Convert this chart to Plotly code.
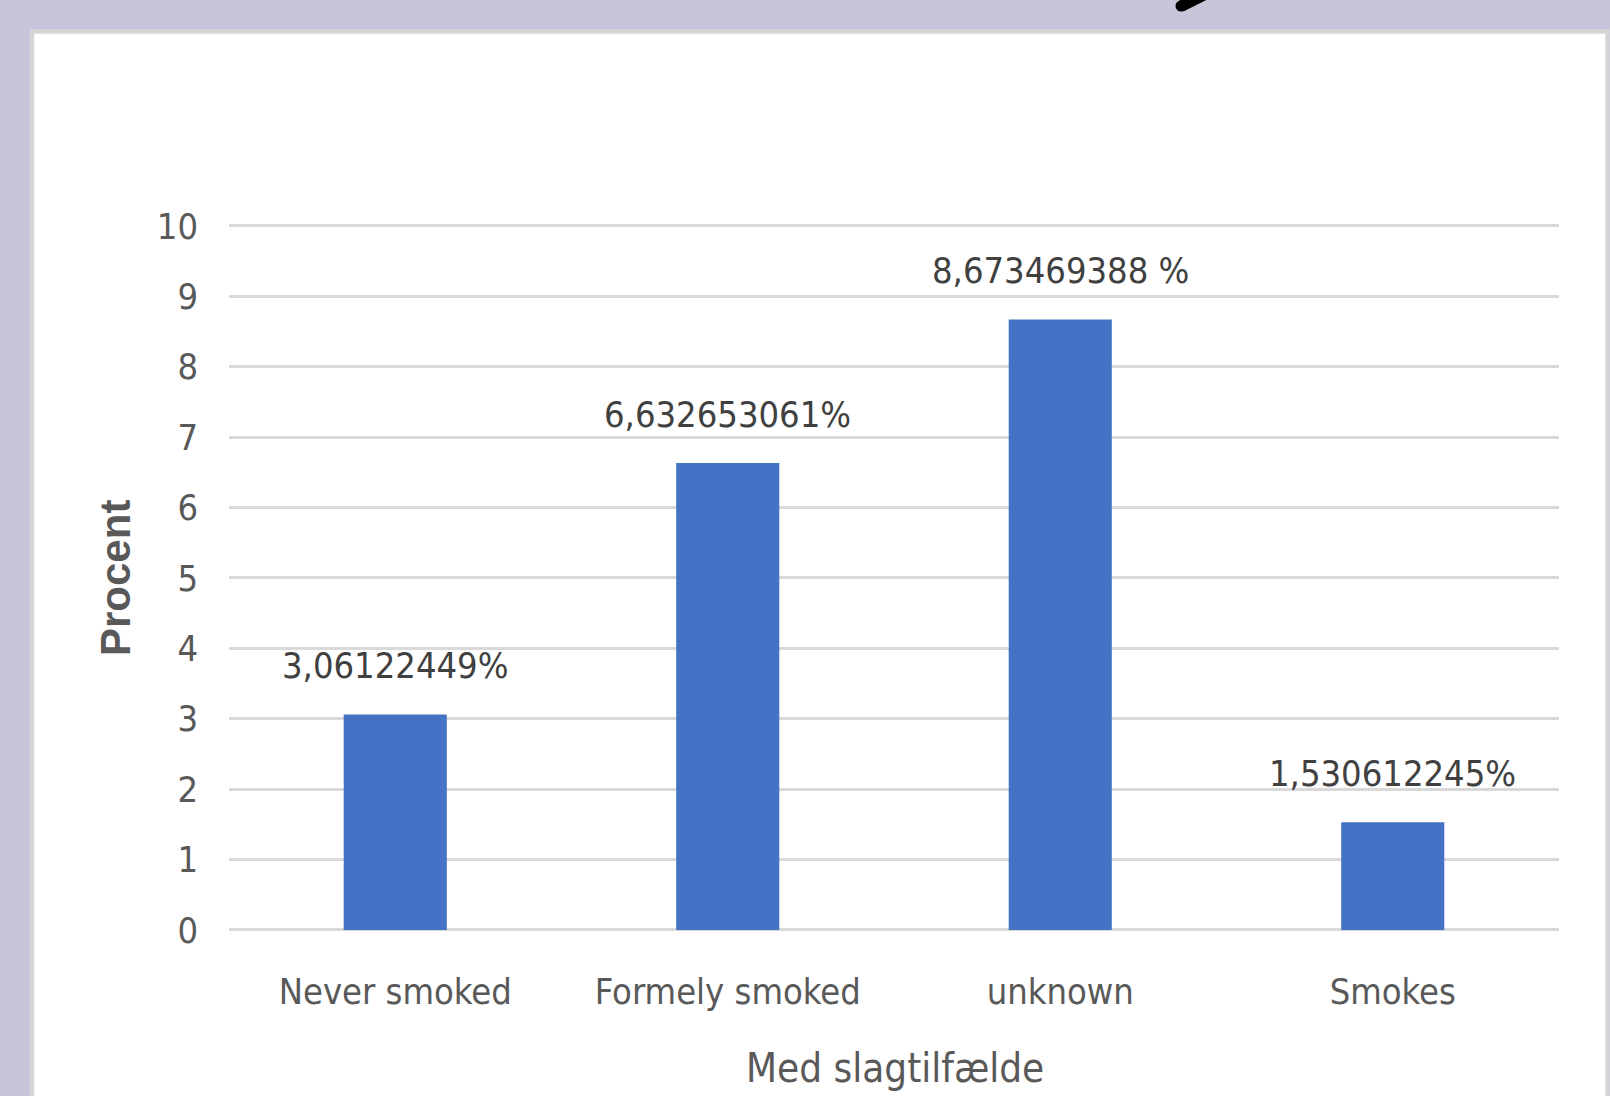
import plotly.graph_objects as go

# Share of stroke cases by smoking status
categories = ["Never smoked", "Formely smoked", "unknown", "Smokes"]
values = [3.06122449, 6.632653061, 8.673469388, 1.530612245]
value_labels = ["3,06122449%", "6,632653061%", "8,673469388 %", "1,530612245%"]
y_ticks = list(range(0, 11))

W, H = 1610, 1096
FONT = "DejaVu Sans Condensed, Liberation Sans Narrow, sans-serif"
GRID = "#d9d9d9"
TICK_COLOR = "#595959"
LABEL_COLOR = "#404040"
BAR_COLOR = "#4472C4"

# plot area in pixels (value 10 sits at PX_T, value 0 at PX_B)
PX_L, PX_R, PX_T, PX_B = 229, 1559, 226, 930
Y_MAX = 10.03  # a touch above 10 so the top gridline is kept
unit = (PX_B - PX_T) / 10.0
top_px = PX_T - (Y_MAX - 10) * unit


def px(x):
    return x / W


def py(y):
    return 1 - y / H


fig = go.Figure()
fig.add_trace(go.Bar(
    x=categories,
    y=values,
    marker=dict(color=BAR_COLOR, line=dict(width=0)),
    hoverinfo="skip",
))

annotations = []
for cat, val, lab in zip(categories, values, value_labels):
    annotations.append(dict(
        x=cat, y=val, xref="x", yref="y", text=lab, showarrow=False,
        yanchor="middle", yshift=49,
        font=dict(family=FONT, size=36, color=LABEL_COLOR),
    ))

# axis titles
annotations.append(dict(
    x=px(115), y=py(578), xref="paper", yref="paper", text="Procent",
    showarrow=False, textangle=-90, xanchor="center", yanchor="middle",
    font=dict(family="Liberation Sans, Arial, sans-serif", size=42,
              color=TICK_COLOR, weight="bold"),
))
annotations.append(dict(
    x=px(895), y=py(1068), xref="paper", yref="paper", text="Med slagtilfælde",
    showarrow=False, xanchor="center", yanchor="middle",
    font=dict(family=FONT, size=40, color=TICK_COLOR),
))

# white chart panel with a grey rim, and a pen stroke at the top edge
cx, cy, r = 1181, 6, 5.5
stroke = [(1178.6, 1.0), (1209.6, -14), (1214.4, -4), (1183.4, 11.5)]
stroke_path = "M " + " L ".join(f"{px(x):.5f},{py(y):.5f}" for x, y in stroke) + " Z"
shapes = [
    dict(type="rect", xref="paper", yref="paper", layer="below",
         x0=px(32), x1=px(1607.5), y0=py(1110), y1=py(31.5),
         fillcolor="white", line=dict(color="#d6d6d6", width=4.5)),
    dict(type="path", xref="paper", yref="paper", path=stroke_path,
         fillcolor="black", line=dict(width=0)),
    dict(type="circle", xref="paper", yref="paper",
         x0=px(cx - r), x1=px(cx + r), y0=py(cy + r), y1=py(cy - r),
         fillcolor="black", line=dict(width=0)),
]

fig.update_layout(
    width=W, height=H,
    autosize=False,
    margin=dict(l=0, r=0, t=0, b=0, autoexpand=False),
    paper_bgcolor="#C6C5DA",
    plot_bgcolor="white",
    showlegend=False,
    bargap=0.69,
    annotations=annotations,
    shapes=shapes,
    xaxis=dict(
        domain=[px(PX_L), px(PX_R)],
        automargin=False,
        showgrid=False, showline=False, ticks="",
        ticklabelstandoff=37,
        tickfont=dict(family=FONT, size=36, color=TICK_COLOR),
    ),
    yaxis=dict(
        domain=[py(PX_B), py(top_px)],
        range=[0, Y_MAX],
        automargin=False,
        tickvals=y_ticks,
        showgrid=True, gridcolor=GRID, gridwidth=3,
        zeroline=True, zerolinecolor=GRID, zerolinewidth=3,
        showline=False, ticks="",
        ticklabelstandoff=30,
        tickfont=dict(family=FONT, size=36, color=TICK_COLOR),
    ),
)

fig.write_html("out.html")
